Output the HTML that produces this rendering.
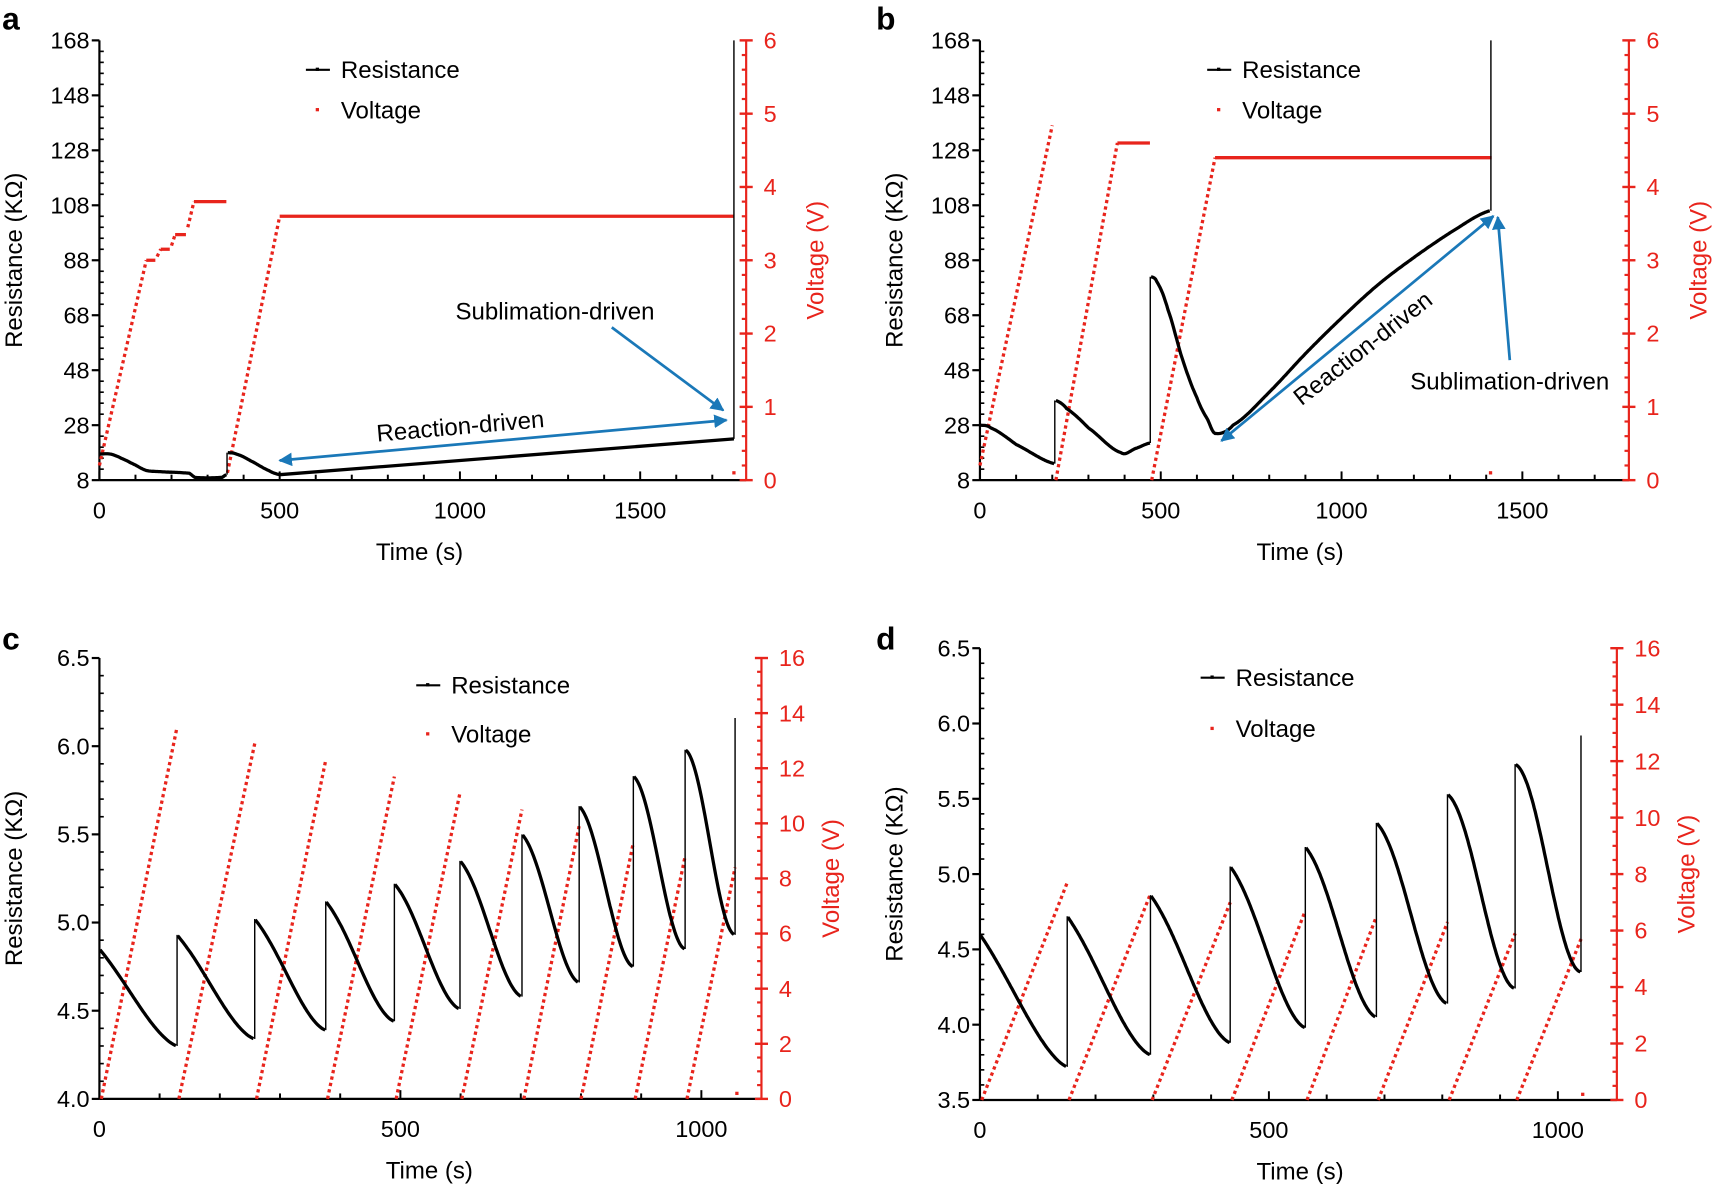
<!DOCTYPE html>
<html><head><meta charset="utf-8">
<style>
html,body{margin:0;padding:0;background:#fff;}
svg{display:block;font-family:"Liberation Sans",sans-serif;}
</style></head>
<body>
<svg id="s" xmlns="http://www.w3.org/2000/svg" width="1713" height="1184" viewBox="0 0 1568 1085" preserveAspectRatio="none">
<defs>
<marker id="ah" viewBox="0 0 10 10" refX="9" refY="5" markerWidth="5" markerHeight="5" orient="auto-start-reverse"><path d="M0,0L10,5L0,10z" fill="#1a78b8"/></marker>
</defs>
</svg>
<script>
const NS='http://www.w3.org/2000/svg',svg=document.getElementById('s');
function el(t,a,txt){const e=document.createElementNS(NS,t);for(const k in a)e.setAttribute(k,a[k]);if(txt!==undefined)e.textContent=txt;svg.appendChild(e);return e;}
const RED='#e8241c';
function panel(c){
 const X=t=>c.xl+t*c.kx, R=r=>c.yb-(r-c.rmin)/(c.rmax-c.rmin)*(c.yb-c.yt), V=v=>c.yb-v/c.vmax*(c.yb-c.yt);
 c.X=X;c.R=R;c.V=V;
 el('line',{x1:c.xl,y1:c.yt,x2:c.xl,y2:c.yb,stroke:'#000','stroke-width':2});
 el('line',{x1:c.xl,y1:c.yb,x2:c.xr,y2:c.yb,stroke:'#000','stroke-width':2});
 el('line',{x1:c.xr,y1:c.yt,x2:c.xr,y2:c.yb,stroke:RED,'stroke-width':2});
 c.rt.forEach((r,i)=>{const y=R(r);el('line',{x1:c.xl-7,y1:y,x2:c.xl,y2:y,stroke:'#000','stroke-width':2});
  el('text',{x:c.xl-9,y:y+7.5,'font-size':21.5,'text-anchor':'end'},c.rl[i]);
  if(i<c.rt.length-1){const n=c.rminor;for(let j=1;j<n;j++){const yy=R(r+(c.rt[i+1]-r)*j/n);el('line',{x1:c.xl,y1:yy,x2:c.xl+4,y2:yy,stroke:'#000','stroke-width':1.5});}}});
 for(let t=0;t<=c.xmax;t+=100){const x=X(t);const maj=t%500==0;el('line',{x1:x,y1:c.yb-(maj?8:5),x2:x,y2:c.yb,stroke:'#000','stroke-width':1.8});
  if(maj)el('text',{x:x,y:c.yb+35,'font-size':21.5,'text-anchor':'middle'},String(t));}
 for(let v=0;v<=c.vmax+1e-9;v+=c.vstep){const y=V(v);el('line',{x1:c.xr-6,y1:y,x2:c.xr+6,y2:y,stroke:RED,'stroke-width':2.2});
  el('text',{x:c.xr+16,y:y+7.5,'font-size':21.5,fill:RED},String(v));
  if(v<c.vmax-1e-9){const n=c.vminor;for(let j=1;j<n;j++){const yy=V(v+c.vstep*j/n);el('line',{x1:c.xr-4,y1:yy,x2:c.xr,y2:yy,stroke:RED,'stroke-width':2});}}}
 el('text',{x:c.tx,y:c.yb+73,'font-size':22,'text-anchor':'middle'},'Time (s)');
 const ly=(c.yt+c.yb)/2;
 el('text',{x:0,y:0,'font-size':22,'text-anchor':'middle',transform:`translate(${c.xl-71},${ly}) rotate(-90)`},'Resistance (KΩ)');
 el('text',{x:0,y:0,'font-size':22,'text-anchor':'middle',fill:RED,transform:`translate(${c.xr+71},${ly}) rotate(-90)`},'Voltage (V)');
 el('text',{x:c.lx,y:c.ly,'font-size':29,'font-weight':'bold'},c.letter);
 el('line',{x1:c.lgx,y1:c.lgy,x2:c.lgx+22,y2:c.lgy,stroke:'#000','stroke-width':2});
 el('rect',{x:c.lgx+9,y:c.lgy-2,width:3,height:3,fill:'#000'});
 el('text',{x:c.lgx+32,y:c.lgy+7.5,'font-size':22},'Resistance');
 el('rect',{x:c.lgx+9,y:c.lgy2-2,width:3,height:3,fill:RED});
 el('text',{x:c.lgx+32,y:c.lgy2+7.5,'font-size':22},'Voltage');
 return c;
}
function poly(c,pts,fn,attrs){el('polyline',Object.assign({points:pts.map(p=>c.X(p[0]).toFixed(1)+','+fn(p[1]).toFixed(1)).join(' '),fill:'none'},attrs));}
function interp(k,step){const o=[];for(let i=0;i<k.length-1;i++){const a=k[i],b=k[i+1],p0=k[Math.max(0,i-1)],p3=k[Math.min(k.length-1,i+2)];const n=Math.max(1,Math.round((b[0]-a[0])/step));for(let j=0;j<n;j++){const u=j/n,u2=u*u,u3=u2*u;
 const cr=(q0,q1,q2,q3)=>0.5*((2*q1)+(-q0+q2)*u+(2*q0-5*q1+4*q2-q3)*u2+(-q0+3*q1-3*q2+q3)*u3);
 o.push([a[0]+(b[0]-a[0])*u,cr(p0[1],a[1],b[1],p3[1])]);}}o.push(k[k.length-1]);return o;}
const RS={stroke:'#000','stroke-width':3,'stroke-linejoin':'round'};
const VD={stroke:RED,'stroke-width':3,'stroke-dasharray':'3 3'}, VS={stroke:RED,'stroke-width':3};
function jump(c,t,r1,r2){el('line',{x1:c.X(t),y1:c.R(r1),x2:c.X(t),y2:c.R(r2),stroke:'#000','stroke-width':1.3});}
function dot(c,t,v){el('rect',{x:c.X(t)-1.5,y:c.V(v)-1.5,width:3,height:3,fill:RED});}

const a=panel({xl:91,xr:683,kx:165/500,xmax:1700,yt:37,yb:440,rmin:8,rmax:168,rt:[8,28,48,68,88,108,128,148,168],rl:['8','28','48','68','88','108','128','148','168'],rminor:5,vmax:6,vstep:1,vminor:5,tx:384,lx:2,ly:27,letter:'a',lgx:280,lgy:64,lgy2:101});
poly(a,[[0,0.2],[130,3.0]],a.V,VD);poly(a,[[130,3.0],[155,3.0]],a.V,VS);
poly(a,[[160,3.05],[170,3.15]],a.V,VD);poly(a,[[170,3.15],[195,3.15]],a.V,VS);
poly(a,[[200,3.2],[210,3.35]],a.V,VD);poly(a,[[210,3.35],[240,3.35]],a.V,VS);
poly(a,[[245,3.45],[262,3.8]],a.V,VD);poly(a,[[262,3.8],[352,3.8]],a.V,VS);
poly(a,[[355,0.1],[500,3.6]],a.V,VD);poly(a,[[500,3.6],[1760,3.6]],a.V,VS);dot(a,1760,0.1);
poly(a,interp([[0,17.5],[30,17.5],[60,16],[100,13.5],[130,11.5],[180,11],[250,10.5],[265,9],[340,9],[352,10]],4),a.R,RS);
jump(a,354,10,18);
poly(a,interp([[356,18],[380,17.5],[420,15],[470,11.5],[500,10]],4),a.R,RS);
poly(a,[[500,10],[1760,23]],a.R,RS);
jump(a,1760,23,168);
el('text',{x:508,y:293,'font-size':22,'text-anchor':'middle'},'Sublimation-driven');
el('line',{x1:560,y1:300,x2:662,y2:376,stroke:'#1a78b8','stroke-width':2.5,'marker-end':'url(#ah)'});
el('text',{x:0,y:0,'font-size':22,'text-anchor':'middle',transform:'translate(422,398) rotate(-5)'},'Reaction-driven');
el('line',{x1:256,y1:422,x2:665,y2:385,stroke:'#1a78b8','stroke-width':2.5,'marker-end':'url(#ah)','marker-start':'url(#ah)'});

const b=panel({xl:897,xr:1491,kx:331/1000,xmax:1700,yt:37,yb:440,rmin:8,rmax:168,rt:[8,28,48,68,88,108,128,148,168],rl:['8','28','48','68','88','108','128','148','168'],rminor:5,vmax:6,vstep:1,vminor:5,tx:1190,lx:802,ly:27,letter:'b',lgx:1105,lgy:64,lgy2:101});
poly(b,[[0,0.2],[200,4.84]],b.V,VD);
poly(b,[[210,0],[380,4.6]],b.V,VD);poly(b,[[380,4.6],[470,4.6]],b.V,VS);
poly(b,[[475,0],[650,4.4]],b.V,VD);poly(b,[[650,4.4],[1415,4.4]],b.V,VS);dot(b,1412,0.1);
poly(b,interp([[0,28],[30,27],[100,21],[205,14]],4),b.R,RS);jump(b,207,14,37);
poly(b,interp([[210,37],[240,34],[300,27],[390,18],[430,19.5],[470,21.5]],4),b.R,RS);jump(b,471,21.5,82);
poly(b,interp([[473,82],[490,80],[520,70],[560,52],[600,38],[630,30],[650,25],[700,28],[800,40],[900,54],[1000,67],[1100,79],[1200,89],[1300,98],[1410,106]],4),b.R,RS);
jump(b,1413,106,168);
el('text',{x:0,y:0,'font-size':22,'text-anchor':'middle',transform:'translate(1252,325) rotate(-38)'},'Reaction-driven');
el('line',{x1:1118,y1:404,x2:1367,y2:198,stroke:'#1a78b8','stroke-width':2.5,'marker-end':'url(#ah)','marker-start':'url(#ah)'});
el('text',{x:1382,y:357,'font-size':22,'text-anchor':'middle'},'Sublimation-driven');
el('line',{x1:1382,y1:330,x2:1371,y2:199,stroke:'#1a78b8','stroke-width':2.5,'marker-end':'url(#ah)'});

function cycles(c,starts,end,peaks,tops,bots,final){
 const ends=starts.slice(1).concat([end]);
 starts.forEach((s,k)=>{const e=ends[k];
  poly(c,[[s+3,0],[e,peaks[k]]],c.V,VD);
  const pts=[];const w=0.25+0.65*k/(starts.length-1);
  for(let t=s+1;t<=e-0.5;t+=2){const u=(t-s)/(e-s);const f=(1-w)*(1-Math.pow(1-u,1.3))+w*(1-Math.cos(Math.PI*u))/2;pts.push([t,tops[k]-(tops[k]-bots[k])*f]);}
  poly(c,pts,c.R,RS);
  jump(c,e,bots[k],k<starts.length-1?tops[k+1]:final);
 });
 dot(c,end+3,0.2);
}
const cc=panel({xl:91,xr:697,kx:551/1000,xmax:1000,yt:603,yb:1007,rmin:4,rmax:6.5,rt:[4,4.5,5,5.5,6,6.5],rl:['4.0','4.5','5.0','5.5','6.0','6.5'],rminor:5,vmax:16,vstep:2,vminor:4,tx:393,lx:2,ly:595,letter:'c',lgx:381,lgy:628,lgy2:673});
cycles(cc,[0,129,258,376,490,599,702,797,887,973],1056,[13.5,12.9,12.3,11.7,11.1,10.5,9.9,9.3,8.8,8.4],[4.85,4.93,5.02,5.12,5.22,5.35,5.5,5.66,5.83,5.98],[4.3,4.34,4.39,4.44,4.51,4.58,4.66,4.75,4.85,4.93],6.16);
const d=panel({xl:897,xr:1480,kx:529/1000,xmax:1000,yt:594,yb:1008,rmin:3.5,rmax:6.5,rt:[3.5,4,4.5,5,5.5,6,6.5],rl:['3.5','4.0','4.5','5.0','5.5','6.0','6.5'],rminor:5,vmax:16,vstep:2,vminor:4,tx:1190,lx:802,ly:595,letter:'d',lgx:1099,lgy:621,lgy2:668});
cycles(d,[0,151,295,433,563,686,809,926],1040,[7.7,7.3,7.0,6.7,6.5,6.3,5.9,5.7],[4.6,4.72,4.86,5.05,5.18,5.34,5.53,5.73],[3.72,3.80,3.88,3.98,4.05,4.14,4.24,4.35],5.92);
</script>
</body></html>
